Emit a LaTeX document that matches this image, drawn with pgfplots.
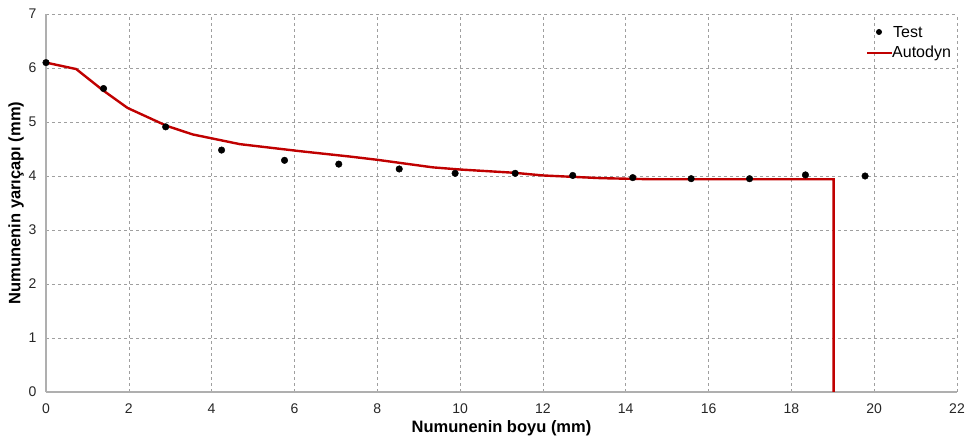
\documentclass[border=0pt]{standalone}
\usepackage{pgfplots}
\pgfplotsset{compat=1.18}
\usepackage{fontspec}
\setmainfont{Liberation Sans}
\definecolor{adred}{RGB}{192,0,0}
\definecolor{axgray}{RGB}{175,175,175}
\begin{document}
\begin{tikzpicture}[x=1pt,y=1pt]
\useasboundingbox (-46,-49) rectangle (920,392);
\begin{axis}[
  at={(0pt,0pt)}, anchor=origin,
  scale only axis, width=911pt, height=378pt,
  xmin=0, xmax=22, ymin=0, ymax=7,
  xtick={0,2,...,22}, ytick={0,1,...,7},
  axis x line*=bottom, axis y line*=left,
  axis line style={axgray, line width=1.6pt, -},
  grid=major, major grid style={gray!75, dashed, line width=0.6pt},
  tick style={draw=none},
  /pgf/number format/assume math mode=true,
  ticklabel style={font=\fontsize{14}{14}\selectfont, text=black!85},
  xticklabel style={yshift=-8pt},
  yticklabel style={xshift=-6pt},
  xlabel={\textbf{Numunenin boyu (mm)}},
  ylabel={\textbf{Numunenin yarıçapı (mm)}},
  label style={font=\fontsize{16.5}{16.5}\selectfont},
  xlabel style={at={(axis description cs:0.5,0)}, anchor=center, yshift=-36pt},
  ylabel style={at={(axis description cs:0,0.5)}, anchor=center, rotate=0, yshift=30pt},
]
\addplot[only marks, mark=*, mark size=3.3pt, black] coordinates {
(0,6.10) (1.39,5.62) (2.89,4.91) (4.24,4.48) (5.76,4.29) (7.07,4.22)
(8.53,4.13) (9.88,4.05) (11.33,4.05) (12.72,4.01) (14.17,3.97)
(15.58,3.95) (16.99,3.95) (18.34,4.02) (19.78,4.00)
};
\addplot[adred, line width=2.4pt] coordinates {
(0,6.10) (0.73,5.98) (1.37,5.59) (1.97,5.26) (2.91,4.93) (3.54,4.77)
(4.68,4.59) (6.13,4.46) (7.34,4.36) (8.0,4.30) (9.34,4.16) (10.0,4.12)
(11.3,4.06) (12.0,4.01) (13.4,3.96) (14.6,3.94) (19.02,3.94) (19.02,0)
};
\end{axis}
\fill[black] (833,360) circle (3pt);
\node[anchor=west, font=\fontsize{16}{16}\selectfont, inner sep=0pt] at (847,360) {Test};
\draw[adred, line width=2.4pt] (821,339) -- (846,339);
\node[anchor=west, font=\fontsize{16}{16}\selectfont, inner sep=0pt] at (846,339) {Autodyn};
\end{tikzpicture}
\end{document}
